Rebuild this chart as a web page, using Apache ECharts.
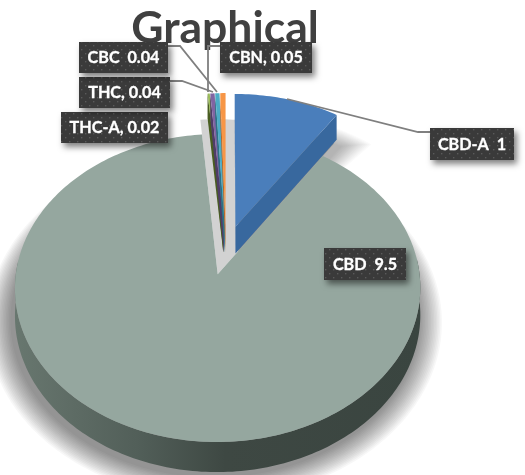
<!DOCTYPE html>
<html>
<head>
<meta charset="utf-8">
<style>html,body{margin:0;padding:0;background:#fff}#c{width:525px;height:475px}</style>
<script src="https://cdn.jsdelivr.net/npm/echarts@6/dist/echarts.min.js"></script>
</head>
<body>
<div id="c"></div>
<script>
const categories = ['CBD-A', 'CBD', 'THC-A', 'THC', 'CBC', 'CBN'];
const values = [1, 9.5, 0.02, 0.04, 0.04, 0.05];
const separators = ['  ', '  ', ', ', ', ', '  ', ', '];

const faceColors = ['#4a7ebb', '#95a79f', '#9bbb59', '#8064a2', '#4bacc6', '#f79646'];
const wallColors = ['#38689e', '#3f4a45', '#4a5e22', '#4f3d68', '#2d7186', '#b56a2a'];
const view = {cx: 226, cy: 250, R: 199, k: 0.746, p: 0.0884, explode: 33, depth: 27};
const labelBoxes = [[430,128,84,32],[324,248,82,32],[61,112,107,31],[79,77,91,31],[79,42,89,31],[220,42,92,31]];
const leaders = [
  [[430,132],[418,132],[287,99]],
  null,
  null,
  [[170,81],[182,81],[213,92]],
  [[168,46],[180,46],[217,92]],
  [[220,46],[208,46],[208,92]]
];
const shadowOffsets = [[3, 7], [-3, 4]];
const shadowAlpha = [0.02, 0.032];
const shadowLayers = 16;
const shadowSpread = 24;

const total = values.reduce((a, b) => a + b, 0);
function sliceAngles(i) {
  let s = 0;
  for (let j = 0; j < i; j++) s += values[j];
  return [s / total * 2 * Math.PI, (s + values[i]) / total * 2 * Math.PI];
}
function project(U, V, drop) {
  const w = 1 + view.p * V / view.R;
  return [view.cx + U / w, view.cy - view.k * V / w + (drop || 0) / w];
}
function slicePoints(i, radius, from, to) {
  const a = sliceAngles(i), mid = (a[0] + a[1]) / 2;
  const ox = view.explode * Math.sin(mid), oy = view.explode * Math.cos(mid);
  const a0 = from === undefined ? a[0] : from, a1 = to === undefined ? a[1] : to;
  const n = Math.max(2, Math.ceil((a1 - a0) / 0.02));
  const arc = [];
  for (let t = 0; t <= n; t++) {
    const th = a0 + (a1 - a0) * t / n;
    arc.push([ox + radius * Math.sin(th), oy + radius * Math.cos(th)]);
  }
  return {apex: [ox, oy], arc};
}
const pr = (q, d) => project(q[0], q[1], d);
function poly(points, style, z2) {
  return {type: 'polygon', shape: {points}, style, z2, silent: true};
}

const dots = document.createElement('canvas');
dots.width = 8; dots.height = 8;
(function () {
  const g = dots.getContext('2d');
  g.fillStyle = '#3a3a3a'; g.fillRect(0, 0, 8, 8);
  g.fillStyle = '#5a5a5a';
  g.fillRect(1, 1, 1.4, 1.4); g.fillRect(5, 5, 1.4, 1.4);
})();

function renderItem(params, api) {
  const i = api.value(0);
  const children = [];
  const D = view.depth;
  const base = i === 1 ? 10 : i === 0 ? 30 : 20 + i;
  const s = slicePoints(i, view.R);
  const top = s.arc.map(q => pr(q));
  const low = s.arc.map(q => pr(q, D));
  const apexTop = pr(s.apex), apexLow = pr(s.apex, D);
  const a = sliceAngles(i);

  if (i === 1) {
    // floor seen through the gap between the exploded slices
    const gap = slicePoints(1, 222, a[1], a[0] + 2 * Math.PI);
    children.push(poly([apexTop].concat(gap.arc.map(q => pr(q))), {fill: '#d2d2d2'}, 1));
  }
  if (i <= 1) {
    // soft shadow on the floor
    const off = shadowOffsets[i];
    for (let t = shadowLayers; t >= 1; t--) {
      const sp = shadowSpread * t / shadowLayers;
      const grow = i === 0 ? sp / view.R : 0;
      const ring = slicePoints(i, view.R + sp, a[0], a[1] + grow);
      const pts = [apexLow].concat(ring.arc.map(q => pr(q, D)))
        .map(p => [p[0] + off[0], p[1] + off[1]]);
      children.push(poly(pts, {fill: 'rgba(0,0,0,' + shadowAlpha[i] + ')'}, 2));
    }
  }
  if (i === 1) {
    // rim is only seen on the front of the slice
    const rim = slicePoints(1, view.R, Math.PI * 0.47, Math.PI * 1.53);
    const rimTop = rim.arc.map(q => pr(q));
    const rimLow = rim.arc.map(q => pr(q, D));
    children.push(poly(rimTop.concat(rimLow.slice().reverse()), {
      fill: {type: 'linear', x: 0, y: 0, x2: 1, y2: 0, colorStops: [
        {offset: 0, color: '#68776f'}, {offset: 0.3, color: '#525f59'},
        {offset: 0.52, color: '#3e4843'}, {offset: 1, color: '#3a4540'}]}
    }, base));
  } else {
    children.push(poly([apexTop, top[0], low[0], apexLow], {fill: wallColors[i]}, base + 1));
    children.push(poly([apexTop, top[top.length - 1], low[low.length - 1], apexLow], {fill: wallColors[i]}, base + 1));
  }
  children.push(poly([apexTop].concat(top), {fill: faceColors[i]}, base + 2));

  const lead = leaders[i];
  if (lead) {
    children.push({type: 'polyline', shape: {points: lead}, silent: true, z2: 50,
      style: {stroke: '#7f7f7f', lineWidth: 1.8, fill: null}});
  }
  const b = labelBoxes[i];
  children.push({type: 'rect', shape: {x: b[0], y: b[1], width: b[2], height: b[3]}, silent: true, z2: 60,
    style: {fill: {image: dots, repeat: 'repeat'}, shadowBlur: 6, shadowOffsetX: 3, shadowOffsetY: 4,
      shadowColor: 'rgba(0,0,0,0.5)'}});
  children.push({type: 'text', silent: true, z2: 61,
    style: {text: categories[i] + separators[i] + values[i], x: b[0] + b[2] / 2, y: b[1] + b[3] / 2 + 0.5,
      align: 'center', verticalAlign: 'middle', fill: '#ffffff', stroke: '#ffffff', lineWidth: 0.3,
      font: 'bold 16.2px Lato, "Open Sans", sans-serif'}});
  return {type: 'group', children};
}

const chart = echarts.init(document.getElementById('c'), null, {renderer: 'canvas'});
chart.setOption({
  animation: false,
  backgroundColor: '#ffffff',
  title: {
    text: 'Graphical', left: 220, top: 1, textAlign: 'center', z: 1,
    textStyle: {color: '#404040', fontSize: 44.5, fontWeight: 'bold', fontFamily: 'Lato'}
  },
  series: [{
    type: 'custom', coordinateSystem: 'none', renderItem,
    data: values.map((v, i) => [i, v])
  }]
});
</script>
</body>
</html>
